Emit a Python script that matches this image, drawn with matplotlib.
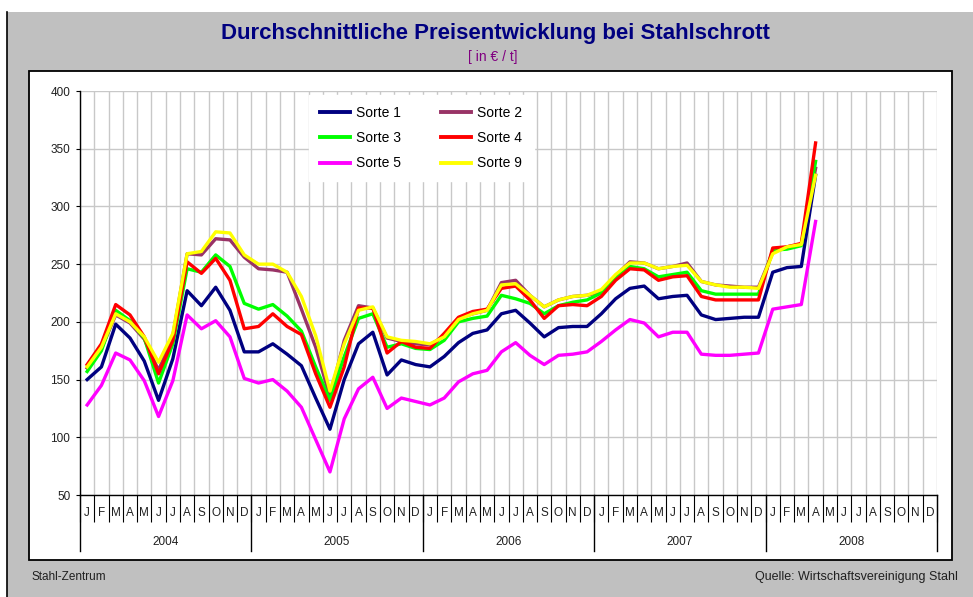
import matplotlib
matplotlib.use("Agg")
import matplotlib.pyplot as plt
from matplotlib.patches import Rectangle
from matplotlib.lines import Line2D

plt.rcParams['font.family'] = ['Liberation Sans', 'DejaVu Sans']

# monthly prices Jan 2004 .. Apr 2008 in EUR / t
sorte_1 = [150, 161, 198, 186, 166, 132, 168, 227, 214, 230, 210, 174,
           174, 181, 172, 162, 134, 107, 150, 181, 191, 154, 167, 163,
           161, 170, 182, 190, 193, 207, 210, 199, 187, 195, 196, 196,
           207, 220, 229, 231, 220, 222, 223, 206, 202, 203, 204, 204,
           243, 247, 248, 327]
sorte_2 = [160, 177, 206, 199, 185, 158, 188, 259, 258, 272, 271, 256,
           246, 245, 243, 211, 178, 135, 184, 214, 212, 186, 183, 181,
           180, 188, 203, 207, 210, 234, 236, 223, 213, 219, 222, 223,
           226, 240, 252, 251, 246, 248, 251, 235, 232, 231, 230, 230,
           260, 265, 267, 333]
sorte_3 = [157, 175, 210, 201, 186, 147, 181, 246, 243, 258, 248, 216,
           211, 215, 205, 192, 161, 132, 170, 203, 207, 178, 181, 177,
           176, 184, 200, 203, 205, 223, 220, 216, 207, 214, 217, 219,
           225, 238, 248, 246, 239, 241, 243, 227, 224, 224, 224, 224,
           262, 263, 266, 339]
sorte_4 = [163, 181, 215, 206, 187, 155, 184, 252, 242, 255, 236, 194,
           196, 207, 196, 189, 155, 126, 161, 212, 212, 173, 183, 178,
           177, 190, 204, 209, 211, 229, 231, 219, 203, 214, 215, 214,
           222, 236, 246, 245, 236, 239, 240, 222, 219, 219, 219, 219,
           264, 265, 268, 355]
sorte_5 = [128, 145, 173, 167, 149, 118, 149, 206, 194, 201, 187, 151,
           147, 150, 140, 126, 98, 70, 116, 142, 152, 125, 134, 131,
           128, 134, 148, 155, 158, 174, 182, 171, 163, 171, 172, 174,
           183, 193, 202, 199, 187, 191, 191, 172, 171, 171, 172, 173,
           211, 213, 215, 287]
sorte_9 = [161, 178, 207, 200, 187, 165, 190, 259, 261, 278, 277, 258,
           250, 250, 243, 222, 188, 140, 181, 210, 213, 187, 184, 183,
           181, 187, 202, 207, 210, 232, 233, 223, 213, 219, 222, 223,
           228, 241, 251, 251, 246, 248, 249, 235, 232, 230, 230, 229,
           259, 265, 267, 327]

series = [("Sorte 1", sorte_1, "#000080"),
          ("Sorte 2", sorte_2, "#993366"),
          ("Sorte 3", sorte_3, "#00ff00"),
          ("Sorte 4", sorte_4, "#ff0000"),
          ("Sorte 5", sorte_5, "#ff00ff"),
          ("Sorte 9", sorte_9, "#ffff00")]

years = [2004, 2005, 2006, 2007, 2008]
month_letters = list("JFMAMJJASOND")
y_ticks = [50, 100, 150, 200, 250, 300, 350, 400]

W, H = 973, 597
fig = plt.figure(figsize=(W / 100, H / 100), dpi=100, facecolor="white")

def fx(px):
    return px / W

def fy(py):
    return 1 - py / H

# grey frame and white chart panel
fig.add_artist(Rectangle((fx(7), 0), 1 - fx(7), fy(12), transform=fig.transFigure,
                         facecolor="#c0c0c0", edgecolor="none", zorder=-3))
fig.add_artist(Line2D([fx(7), fx(7)], [0, fy(12)], transform=fig.transFigure,
                      color="black", lw=1.2, zorder=-2))
fig.add_artist(Rectangle((fx(29), fy(560)), fx(952) - fx(29), fy(71) - fy(560),
                         transform=fig.transFigure, facecolor="white",
                         edgecolor="black", lw=1.3, zorder=-2))

fig.text(fx(495), fy(33), "Durchschnittliche Preisentwicklung bei Stahlschrott",
         ha="center", va="center", fontsize=16, fontweight="bold", color="#000080")
fig.text(fx(493), fy(57), "[ in \u20ac / t]", ha="center", va="center",
         fontsize=10, color="#800080")
fig.text(fx(32), fy(577), "Stahl-Zentrum", ha="left", va="center",
         fontsize=8.5, color="#202020")
fig.text(fx(958), fy(577), "Quelle: Wirtschaftsvereinigung Stahl", ha="right",
         va="center", fontsize=9, color="#202020")

ax = fig.add_axes([fx(80), fy(495), fx(937) - fx(80), (495 - 91) / H])
n_months = 12 * len(years)
x = [i + 0.5 for i in range(len(sorte_1))]

lines = {}
for name, vals, col in series:
    lines[name], = ax.plot(x, vals, color=col, lw=2.4, label=name,
                           solid_joinstyle="round", zorder=3)

ax.set_xlim(0, n_months)
ax.set_ylim(50, 400)
ax.set_yticks(y_ticks)
ax.set_yticklabels([str(v) for v in y_ticks])

ax.set_xticks(range(n_months + 1))
ax.set_xticklabels([])
ax.set_xticks([i + 0.5 for i in range(n_months)], minor=True)
ax.set_xticklabels(month_letters * len(years), minor=True)

ax.grid(True, which="major", color="#c8c8c8", lw=1.0, zorder=0)
ax.set_axisbelow(True)
for s in ("top", "right"):
    ax.spines[s].set_visible(False)
ax.spines["left"].set_linewidth(1.0)
ax.spines["bottom"].set_linewidth(1.0)

ax.tick_params(axis="y", direction="out", length=3, width=0.8, pad=4,
               labelsize=8.5, labelcolor="#202020")
ax.tick_params(axis="x", which="major", direction="out", length=19.5, width=0.8)
ax.tick_params(axis="x", which="minor", length=0, pad=9, labelsize=8.5,
               labelcolor="#202020")

xt = ax.get_xaxis_transform()
for k in range(0, n_months + 1, 12):
    ax.plot([k, k], [0, -0.139], transform=xt, color="black", lw=1.0,
            clip_on=False)
for j, yr in enumerate(years):
    ax.text(12 * j + 6, -0.116, str(yr), transform=xt, ha="center",
            va="center", fontsize=8.5, color="#202020")

order = ["Sorte 1", "Sorte 3", "Sorte 5", "Sorte 2", "Sorte 4", "Sorte 9"]
leg = ax.legend([lines[n] for n in order], order, ncol=2, loc="upper left",
                bbox_to_anchor=(0.267, 0.99), borderaxespad=0, fontsize=10,
                frameon=True, fancybox=False, framealpha=1, edgecolor="white",
                facecolor="white", handlelength=2.15, handletextpad=0.45,
                columnspacing=2.9, labelspacing=0.8, borderpad=0.8)
for h in leg.get_lines():
    h.set_linewidth(2.8)

fig.savefig("out.png", dpi=100, facecolor="white")
